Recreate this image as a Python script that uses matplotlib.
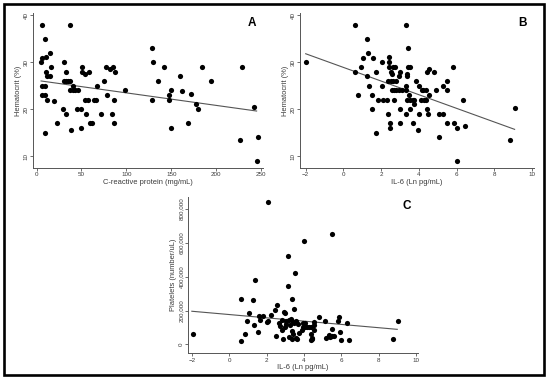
import numpy as np
import matplotlib.pyplot as plt
from matplotlib.patches import Rectangle
from matplotlib.ticker import FuncFormatter

plt.rcParams['font.family'] = ['Liberation Sans', 'DejaVu Sans']

# panel A: C-reactive protein vs hematocrit
crp = [6, 37, 9, 6, 11, 15, 5, 30, 10, 16, 33, 12, 15, 31, 33, 35, 37, 6, 9, 40,
       37, 40, 43, 46, 6, 9, 12, 19, 23, 9, 29, 33, 45, 49, 38, 50, 51, 51, 54, 58,
       54, 57, 55, 59, 62, 64, 66, 67, 75, 77, 78, 82, 85, 87, 72, 84, 86, 86, 98, 128,
       130, 128, 142, 135, 147, 147, 150, 150, 160, 162, 172, 169, 178, 180, 184, 194, 229, 227, 242, 246,
       245]
hct_a = [38, 38, 35, 31, 31.2, 32, 30, 30, 28, 29, 28, 27, 27, 26, 26, 26, 26, 25, 25, 25,
         24, 24, 24, 24, 23, 23, 22, 21.8, 17, 15, 20, 19, 20, 20, 15.5, 16, 29, 28, 27.5, 28,
         22, 22, 19, 17, 17, 22, 22, 25, 26.1, 29, 23, 28.5, 29, 28, 19, 19, 17, 21.9, 24, 33,
         30, 22, 29, 26, 23, 22, 24, 16, 27, 23.8, 23.3, 17, 21, 20, 29, 26, 29, 13.5, 20.4, 14,
         9]
fit_a_x = [5, 245]
fit_a_y = [26.0, 19.6]

# panel B: IL-6 vs hematocrit
il6_b = [-2, 0.61, 3.31, 1.25, 1.28, 3.43, 1.05, 1.58, 0.61, 0.93, 1.7, 2.06, 1.25, 2.4, 2.43, 2.4, 2.65, 2.5, 2.55,
         2.75, 3.43, 3.52, 2.98, 2.96, 3.36, 3.36, 2.37, 2.51, 2.65, 2.8, 3.82, 1.37, 2.07, 4.0, 4.16, 3.3,
         2.55, 2.69, 2.81, 2.95, 3.08, 3.29, 3.46, 3.39, 3.51, 3.66, 3.75, 0.79, 1.53, 1.81, 2.11, 2.29, 2.66,
         3.75, 4.09, 4.27, 4.4, 4.37, 4.23, 1.49, 2.37, 2.46, 2.46, 1.7, 3.0, 3.02, 3.31, 3.52, 3.66, 3.96,
         4.02, 4.42, 4.49, 4.54, 4.42, 4.53, 4.81, 4.91, 5.05, 5.28, 5.09, 5.3, 5.5, 5.48, 5.5, 5.8,
         5.86, 6.0, 6.0, 6.34, 6.43, 8.85, 9.08]
hct_b = [30, 37.9, 37.9, 35, 32, 33, 31, 31, 28, 29, 28, 30, 27, 31.1, 30, 29, 29, 28, 27.5,
         29, 29, 29, 28, 27, 27.5, 27, 26, 26, 26, 26, 26, 25, 25, 25, 24, 25,
         24, 24, 24, 24, 24, 24, 23, 22, 22, 22, 22, 23, 23, 22, 22, 22, 22,
         21, 22, 22, 22, 24, 24, 20, 19, 17, 16, 15, 20, 17, 19, 20, 17, 15.5,
         19, 20, 19, 23, 28, 28.5, 28, 24, 19, 19, 14, 25, 26, 24, 17, 29,
         17, 16, 9, 22, 16.5, 13.5, 20.3]
fit_b_x = [-2, 9.07]
fit_b_y = [31.8, 15.7]

# panel C: IL-6 vs platelets
il6_c = [-1.95, 2.1, 4.02, 5.5, 3.12, 3.53, 1.37, 3.12, 0.62, 1.28, 3.35, 2.55, 2.46, 3.44, 1.05, 2.26,
         2.92, 3.01, 1.62, 1.8, 1.67, 2.06, 0.94, 1.32, 1.55, 0.83, 0.62, 2.5, 2.87, 2.65, 2.83,
         3.04, 3.18, 3.28, 2.74, 2.8, 2.98, 3.39, 3.48, 3.57, 3.25, 3.34, 3.43, 3.22, 3.35, 3.56,
         3.76, 3.87, 3.97, 4.08, 4.15, 4.25, 3.97, 4.06, 4.35, 4.56, 4.56, 4.56, 4.4, 4.42, 4.35,
         4.44, 4.83, 5.1, 5.2, 5.34, 5.35, 5.37, 5.5, 5.63, 5.52, 5.8, 5.86, 5.95, 6.0, 6.32,
         6.4, 8.78, 9.02, 3.05, 2.0, 3.62, 3.7]
plt_c = [61000, 843000, 611000, 654000, 522000, 425000, 378000, 347000, 268000, 262000, 266000, 232000, 203000, 207000, 185000, 173000,
         189000, 183000, 170000, 168000, 145000, 141000, 140000, 116000, 71000, 59000, 20000, 49000, 33000, 128000, 145000,
         136000, 142000, 150000, 108000, 85000, 100000, 135000, 127000, 141000, 115000, 82000, 62000, 45000, 30000, 37000,
         65000, 84000, 103000, 100000, 102000, 100000, 128000, 124000, 104000, 133000, 114000, 85000, 27000, 33000, 61000,
         38000, 164000, 138000, 35000, 50000, 58000, 42000, 51000, 48000, 92000, 138000, 160000, 75000, 24000, 128000,
         28000, 30000, 140000, 118000, 135000, 34000, 118000]
fit_c_x = [-2, 8.99]
fit_c_y = [196000, 89000]

fig = plt.figure(figsize=(5.5, 3.82), dpi=100)

grey = '#555555'
txt = '#3a3a3a'


def panel(rect, x, y, fx, fy, xlim, ylim, xticks, yticks, xlabel, ylabel, letter, yfmt=None):
    ax = fig.add_axes(rect)
    ax.scatter(x, y, s=14, color='black', linewidths=0, zorder=3)
    ax.plot(fx, fy, color=grey, lw=0.8)
    ax.set_xlim(xlim)
    ax.set_ylim(ylim)
    ax.set_xticks(xticks)
    ax.set_yticks(yticks)
    if yfmt:
        ax.yaxis.set_major_formatter(FuncFormatter(yfmt))
    ax.set_xlabel(xlabel, fontsize=5.4, color=txt, labelpad=1)
    ax.set_ylabel(ylabel, fontsize=5.4, color=txt, labelpad=1.5)
    ax.text(0.97, 0.94, letter, transform=ax.transAxes, fontsize=8.5,
            fontweight='bold', ha='right', va='center')
    for s in ['top', 'right']:
        ax.spines[s].set_visible(False)
    for s in ['left', 'bottom']:
        ax.spines[s].set_color(grey)
        ax.spines[s].set_linewidth(0.7)
    ax.tick_params(axis='both', labelsize=4.5, length=2, width=0.6, color=grey,
                   labelcolor=txt, pad=1)
    for lab in ax.get_yticklabels():
        lab.set_rotation(90)
        lab.set_va('center')
    return ax


panel([0.06, 0.560, 0.418, 0.405], crp, hct_a, fit_a_x, fit_a_y,
      (-4, 252), (7.45, 40.4), [0, 50, 100, 150, 200, 250], [10, 20, 30, 40],
      'C-reactive protein (mg/mL)', 'Hematocrit (%)', 'A')

panel([0.5455, 0.560, 0.4255, 0.405], il6_b, hct_b, fit_b_x, fit_b_y,
      (-2.3, 10.1), (7.45, 40.4), [-2, 0, 2, 4, 6, 8, 10], [10, 20, 30, 40],
      'IL-6 (Ln pg/mL)', 'Hematocrit (%)', 'B')

panel([0.342, 0.075, 0.418, 0.409], il6_c, plt_c, fit_c_x, fit_c_y,
      (-2.2, 10.1), (-53000, 871000), [-2, 0, 2, 4, 6, 8, 10],
      [0, 200000, 400000, 600000, 800000],
      'IL-6 (Ln pg/mL)', 'Platelets (number/uL)', 'C',
      yfmt=lambda v, p: f'{int(v):,}')

fig.patches.append(Rectangle((0.0073, 0.018), 0.982, 0.971, transform=fig.transFigure,
                             fill=False, edgecolor='black', linewidth=1.9))

fig.savefig('out.png', dpi=100)
